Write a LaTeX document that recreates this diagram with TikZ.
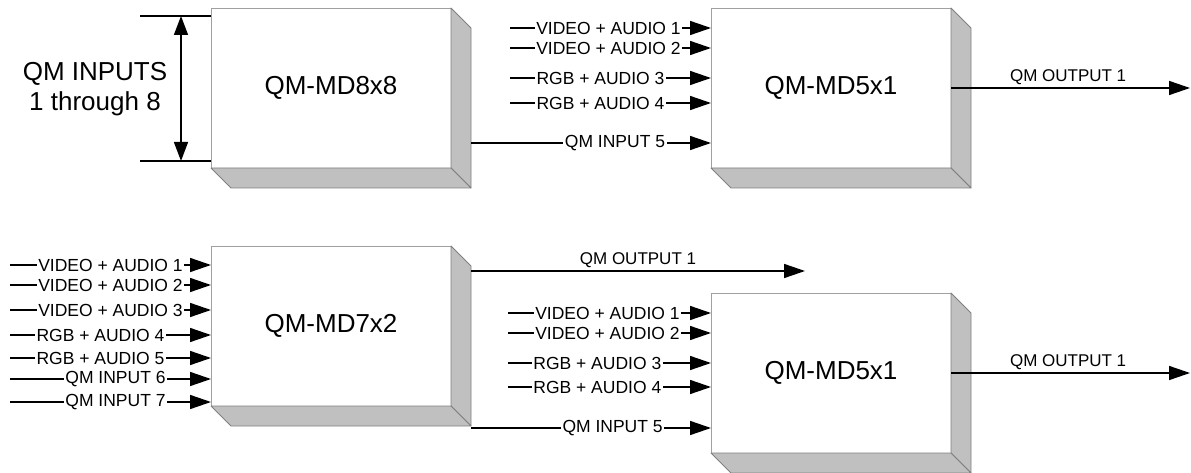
\documentclass[tikz,border=0pt]{standalone}
\usepackage{fontspec}
\setmainfont{Liberation Sans}
\usepackage{xcolor}
\usepackage{tikz}
\usetikzlibrary{arrows.meta,positioning,calc}
\definecolor{unitedge}{HTML}{A0A0A0}
\definecolor{faceedge}{HTML}{808080}
\definecolor{facefill}{HTML}{C0C0C0}

\begin{document}
\begin{tikzpicture}[
    x=1pt, y=-1pt,
    unit/.style={rectangle, draw=unitedge, fill=white, line width=0.8pt, minimum width=240pt, minimum height=160pt, inner sep=0pt, outer sep=0pt, font=\fontsize{26}{30}\selectfont},
    face/.style={draw=faceedge, fill=facefill, line width=0.8pt, line join=round},
    sig/.style={draw, line width=1.5pt, -{Triangle[length=21pt,width=14pt]}},
    wire/.style={draw, line width=1.5pt},
    lbl/.style={fill=white, inner xsep=1.5pt, inner ysep=0pt, font=\fontsize{17.5}{20}\selectfont},
    outlbl/.style={above, inner sep=3pt, font=\fontsize{17}{20}\selectfont}
]
\useasboundingbox (0,0) rectangle (1191,473);

\node [unit, anchor=north west] (md8) at (211,8) {QM-MD8x8};
\node [unit, right=260pt of md8] (md5a) {QM-MD5x1};
\node [unit, below=78pt of md8] (md7) {QM-MD7x2};
\node [unit, below=125pt of md5a] (md5b) {QM-MD5x1};

\filldraw [face] (md8.north east) -- ++(20,20) -- ++(0,160) -- (md8.south east) -- cycle;
\filldraw [face] (md8.south west) -- ++(20,20) -- ++(240,0) -- (md8.south east) -- cycle;
\filldraw [face] (md5a.north east) -- ++(20,20) -- ++(0,160) -- (md5a.south east) -- cycle;
\filldraw [face] (md5a.south west) -- ++(20,20) -- ++(240,0) -- (md5a.south east) -- cycle;
\filldraw [face] (md7.north east) -- ++(20,20) -- ++(0,160) -- (md7.south east) -- cycle;
\filldraw [face] (md7.south west) -- ++(20,20) -- ++(240,0) -- (md7.south east) -- cycle;
\filldraw [face] (md5b.north east) -- ++(20,20) -- ++(0,160) -- (md5b.south east) -- cycle;
\filldraw [face] (md5b.south west) -- ++(20,20) -- ++(240,0) -- (md5b.south east) -- cycle;

\node [font=\fontsize{26}{30}\selectfont, align=center] (span) at (95,89) {QM INPUTS\\1 through 8};
\coordinate (dtop) at (140,16);
\coordinate (dbot) at (140,161);
\draw [wire] (dtop) -- (dtop -| md8.west);
\draw [wire] (dbot) -- (dbot -| md8.west);
\draw [wire, {Triangle[length=19pt,width=14pt]}-{Triangle[length=19pt,width=14pt]}] ([xshift=41pt]dtop) -- ([xshift=41pt]dbot);

\coordinate (a1) at (510,28);
\coordinate (a2) at (510,48);
\coordinate (a3) at (510,78);
\coordinate (a4) at (510,103);
\coordinate (a5) at ([shift={(20,-25)}]md8.south east);
\draw [sig] (a1) -- node[lbl, pos=0.49] {VIDEO + AUDIO 1} (a1 -| md5a.west);
\draw [sig] (a2) -- node[lbl, pos=0.49] {VIDEO + AUDIO 2} (a2 -| md5a.west);
\draw [sig] (a3) -- node[lbl, pos=0.45] {RGB + AUDIO 3} (a3 -| md5a.west);
\draw [sig] (a4) -- node[lbl, pos=0.45] {RGB + AUDIO 4} (a4 -| md5a.west);
\draw [sig] (a5) -- node[lbl, pos=0.6] {QM INPUT 5} (a5 -| md5a.west);
\coordinate (outa) at (1190,88);
\draw [sig] (md5a.east) -- node[outlbl, pos=0.49] {QM OUTPUT 1} (outa);

\coordinate (c1) at (10,265);
\coordinate (c2) at (10,285);
\coordinate (c3) at (10,310);
\coordinate (c4) at (10,335);
\coordinate (c5) at (10,358);
\coordinate (c6) at (10,379);
\coordinate (c7) at (10,402);
\draw [sig] (c1) -- node[lbl, pos=0.5] {VIDEO + AUDIO 1} (c1 -| md7.west);
\draw [sig] (c2) -- node[lbl, pos=0.5] {VIDEO + AUDIO 2} (c2 -| md7.west);
\draw [sig] (c3) -- node[lbl, pos=0.5] {VIDEO + AUDIO 3} (c3 -| md7.west);
\draw [sig] (c4) -- node[lbl, pos=0.45] {RGB + AUDIO 4} (c4 -| md7.west);
\draw [sig] (c5) -- node[lbl, pos=0.45] {RGB + AUDIO 5} (c5 -| md7.west);
\draw [sig] (c6) -- node[lbl, pos=0.525] {QM INPUT 6} (c6 -| md7.west);
\draw [sig] (c7) -- node[lbl, pos=0.525] {QM INPUT 7} (c7 -| md7.west);
\coordinate (q1) at ([shift={(20,25)}]md7.north east);
\coordinate (outb) at (805,271);
\draw [sig] (q1) -- node[outlbl, pos=0.5] {QM OUTPUT 1} (outb);

\coordinate (b1) at (508,313);
\coordinate (b2) at (508,333);
\coordinate (b3) at (508,363);
\coordinate (b4) at (508,387);
\coordinate (b5) at ([shift={(20,22)}]md7.south east);
\draw [sig] (b1) -- node[lbl, pos=0.49] {VIDEO + AUDIO 1} (b1 -| md5b.west);
\draw [sig] (b2) -- node[lbl, pos=0.49] {VIDEO + AUDIO 2} (b2 -| md5b.west);
\draw [sig] (b3) -- node[lbl, pos=0.44] {RGB + AUDIO 3} (b3 -| md5b.west);
\draw [sig] (b4) -- node[lbl, pos=0.44] {RGB + AUDIO 4} (b4 -| md5b.west);
\draw [sig] (b5) -- node[lbl, pos=0.59] {QM INPUT 5} (b5 -| md5b.west);
\coordinate (outc) at (1190,373);
\draw [sig] (md5b.east) -- node[outlbl, pos=0.49] {QM OUTPUT 1} (outc);

\end{tikzpicture}
\end{document}
